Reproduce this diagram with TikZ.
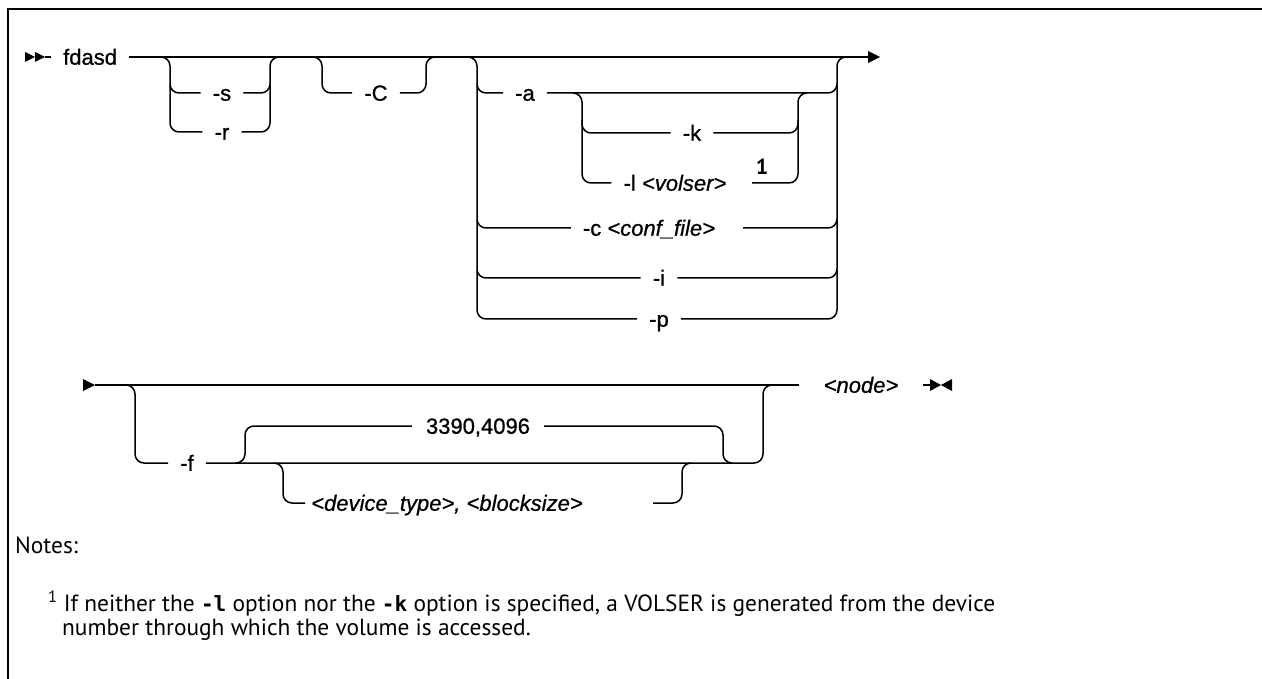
\documentclass[tikz,border=0pt]{standalone}
\usepackage{fontspec}
\setmainfont{Liberation Sans}
\newfontfamily\railfont{Liberation Sans}[BoldFont={Liberation Sans}, BoldFeatures={FakeBold=0.8}, BoldItalicFont={Liberation Sans Italic}, BoldItalicFeatures={FakeBold=0.8}]
\newfontfamily\notefont{PT Sans}
\newfontfamily\notemono{DejaVu Sans Mono}
\begin{document}
\begin{tikzpicture}[x=1pt,y=-1pt,
  line/.style={line width=1.5pt},
  rail/.style={line width=1.5pt, rounded corners=9pt},
  lbl/.style={inner xsep=12pt, inner ysep=0pt, text height=15.5pt, text depth=0pt, font=\railfont\bfseries\fontsize{22}{26}\selectfont},
  note/.style={inner sep=0pt, anchor=west, font=\notefont\fontsize{23.4}{28}\selectfont}]
\useasboundingbox (0,0) rectangle (1262,679);
% frame
\draw[line width=2.8pt] (8,679) -- (8,9) -- (1262,9);

% ---------- row 1 ----------
\fill (25,52) -- (35,57) -- (25,62) -- cycle;
\fill (35,52) -- (45,57) -- (35,62) -- cycle;
\coordinate (start1) at (45,57);
\node[lbl, anchor=west] (fdasd) at (51,57) {fdasd};
\draw[line] (start1) -- (fdasd.west);
\coordinate (end1) at (868,57);
\draw[line] (fdasd.east) -- (end1);
\fill (868,51) -- (880,57) -- (868,63) -- cycle;

% group -s / -r
\node[lbl] (s) at (222,93) {-s};
\node[lbl] (r) at (222,132) {-r};
\draw[rail] (160,57) -| (170,93) -- (s.west);
\draw[rail] (170,85) |- (r.west);
\draw[rail] (s.east) -| (270,57) -- (280,57);
\draw[rail] (r.east) -| (270,85);

% group -C
\node[lbl] (C) at (376,93) {-C};
\draw[rail] (312,57) -| (322,93) -- (C.west);
\draw[rail] (C.east) -| (426,57) -- (435,57);

% group -a / -c / -i / -p
\node[lbl] (a) at (525,93) {-a};
\node[lbl] (c) at (649,228) {-c \textit{<conf\_file>}};
\coordinate (cr) at (743,228);
\node[lbl] (i) at (659,278) {-i};
\node[lbl] (p) at (659,319) {-p};
\draw[rail] (468,57) -| (477,93) -- (a.west);
\draw[rail] (477,85) |- (c.west);
\draw[rail] (477,220) |- (i.west);
\draw[rail] (477,270) |- (p.west);
\draw[rail] (a.east) -| (837,57) -- (848,57);
\draw[rail] (cr) -| (837,85);
\draw[rail] (i.east) -| (837,220);
\draw[rail] (p.east) -| (837,270);

% nested -k / -l
\node[lbl] (k) at (692,133) {-k};
\node[lbl] (l) at (675,183) {-l \textit{<volser>}};
\coordinate (lr) at (752,183);
\node[font=\notefont\fontsize{22}{26}\selectfont\bfseries, inner sep=0pt] (fn1) at (762,167) {1};
\draw[rail] (573,93) -| (582,133) -- (k.west);
\draw[rail] (582,120) |- (l.west);
\draw[rail] (k.east) -| (798,93) -- (807,93);
\draw[rail] (lr) -| (798,120);

% ---------- row 2 ----------
\fill (83,379) -- (95,385) -- (83,391) -- cycle;
\coordinate (start2) at (95,385);
\node[lbl, inner xsep=24pt] (nd) at (861,385) {\textit{<node>}};
\draw[line] (start2) -- (nd.west);
\coordinate (term) at (930,385);
\draw[line] (nd.east) -- (term);
\fill (930,379) -- (941,385) -- (930,391) -- cycle;
\fill (952,379) -- (941,385) -- (952,391) -- cycle;

% group -f
\node[lbl] (f) at (187,463) {-f};
\draw[rail] (125,385) -| (135,463) -- (f.west);
\draw[rail] (f.east) -| (763,385) -- (772,385);

% default 3390,4096
\node[lbl, inner xsep=14pt] (def) at (478,426) {3390,4096};
\draw[rail] (235,463) -| (245,426) -- (def.west);
\draw[rail] (def.east) -| (723,463) -- (732,463);

% device_type, blocksize
\node[lbl, inner xsep=6pt] (dev) at (447,503) {\textit{<device\_type>, <blocksize>}};
\coordinate (devr) at (653,503);
\draw[rail] (275,463) -| (283,503) -- (dev.west);
\draw[rail] (devr) -| (682,463) -- (690,463);

% ---------- notes ----------
\node[note] (notes) at (15,545) {Notes:};
\node[note] (n1) at (48,604) {\textsuperscript{1} If neither the {\notemono\bfseries\fontsize{21}{25}\selectfont -l} option nor the {\notemono\bfseries\fontsize{21}{25}\selectfont -k} option is specified, a VOLSER is generated from the device};
\node[note] (n2) at (62,630) {number through which the volume is accessed.};
\end{tikzpicture}
\end{document}
